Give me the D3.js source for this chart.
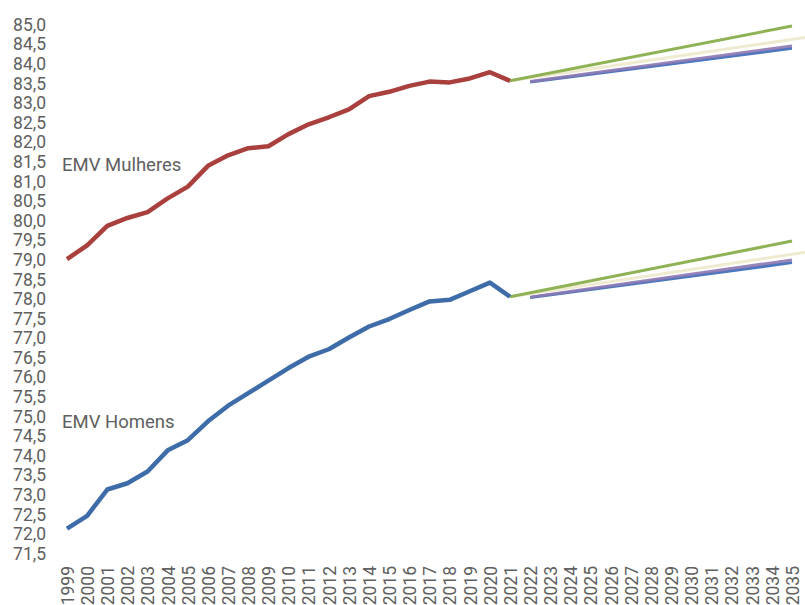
<!DOCTYPE html>
<html><head><meta charset="utf-8">
<script src="https://cdn.jsdelivr.net/npm/d3@7"></script>
<style>body{margin:0;background:#fff}svg{display:block}</style>
</head><body><svg id="c" width="805" height="605"></svg>
<script>
const years = d3.range(1999, 2036);
const obsYears = d3.range(1999, 2022);
const women = [79.0,79.35,79.85,80.05,80.2,80.55,80.85,81.38,81.65,81.83,81.88,82.19,82.44,82.62,82.82,83.16,83.27,83.42,83.53,83.51,83.61,83.77,83.55];
const men = [72.12,72.45,73.12,73.28,73.58,74.12,74.38,74.86,75.26,75.58,75.9,76.22,76.51,76.7,77.0,77.28,77.47,77.7,77.92,77.96,78.18,78.4,78.04];
const yTicks = d3.range(71.5, 85.01, 0.5);
// projection scenarios [startYear, endYear], [startValue, endValue]
const projWomenBlue   = {years:[2022,2035], values:[83.52,84.38]};
const projWomenPurple = {years:[2022,2035], values:[83.53,84.44]};
const projWomenCream  = {years:[2021,2036], values:[83.55,84.68]};
const projWomenGreen  = {years:[2021,2035], values:[83.55,84.95]};
const projMenBlue   = {years:[2022,2035], values:[78.02,78.91]};
const projMenPurple = {years:[2022,2035], values:[78.03,78.98]};
const projMenCream  = {years:[2021,2036], values:[78.04,79.2]};
const projMenGreen  = {years:[2021,2035], values:[78.04,79.46]};
const labels = [{text:"EMV Mulheres", year:1999, value:81.25}, {text:"EMV Homens", year:1999, value:74.7}];

const svg = d3.select("#c");
const x = d3.scaleLinear().domain([1999, 2035]).range([67, 792]);
const y = d3.scaleLinear().domain([71.5, 85]).range([553, 24]);
const font = "Roboto, 'Open Sans', sans-serif";
const grey = "#606060";

const yAxis = svg.append("g").attr("transform","translate(46,0)")
  .call(d3.axisLeft(y).tickValues(yTicks).tickSize(0).tickPadding(0)
    .tickFormat(d => d3.format(".1f")(d).replace(".", ",")));
yAxis.select(".domain").remove();
yAxis.selectAll("text").attr("font-family", font).attr("font-size", "17.5px").attr("fill", grey).attr("dy","0.36em");

const xAxis = svg.append("g").attr("transform","translate(0,566)")
  .call(d3.axisBottom(x).tickValues(years).tickSize(0).tickPadding(0).tickFormat(d => String(d)));
xAxis.select(".domain").remove();
xAxis.selectAll("text").attr("font-family", font).attr("font-size", "17.5px").attr("fill", grey)
  .attr("transform","rotate(-90)").attr("text-anchor","end").attr("x", 0).attr("y", 0).attr("dy","0.36em");

const line = d3.line().x(d => x(d[0])).y(d => y(d[1]));

function proj(p, color, w, op) {
  svg.append("path").attr("d", line(p.years.map((yr,i)=>[yr, p.values[i]])))
    .attr("fill","none").attr("stroke", color).attr("stroke-width", w).attr("stroke-opacity", op);
}
[[projWomenBlue, projWomenPurple, projWomenCream, projWomenGreen],[projMenBlue, projMenPurple, projMenCream, projMenGreen]].forEach(s => {
  proj(s[0], "#4a77bf", 3, 1);
  proj(s[1], "#8d79b3", 3, 0.9);
  proj(s[2], "#ece8c8", 3, 0.85);
  proj(s[3], "#8fb255", 3, 1);
});

svg.append("path").attr("d", line(obsYears.map((yr,i)=>[yr, women[i]])))
  .attr("fill","none").attr("stroke","#a9403d").attr("stroke-width",4.5).attr("stroke-linejoin","round");
svg.append("path").attr("d", line(obsYears.map((yr,i)=>[yr, men[i]])))
  .attr("fill","none").attr("stroke","#3e6ca8").attr("stroke-width",4.5).attr("stroke-linejoin","round");

svg.selectAll(".lbl").data(labels).enter().append("text")
  .attr("x", d => x(d.year) - 5).attr("y", d => y(d.value))
  .attr("font-family", font).attr("font-size","18.5px").attr("fill", grey).text(d => d.text);
</script></body></html>
